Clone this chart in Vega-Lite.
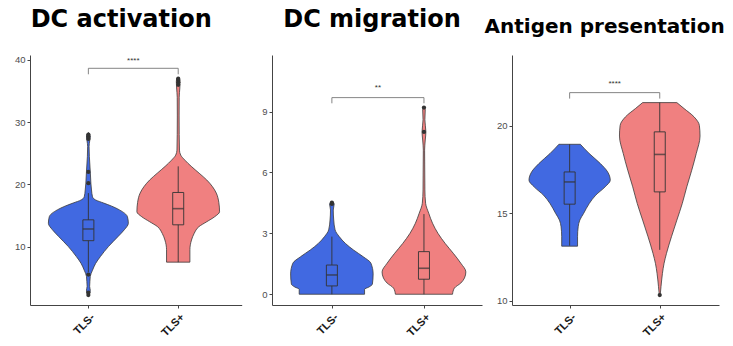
{
  "$schema": "https://vega.github.io/schema/vega-lite/v6.json",
  "autosize": {"type": "none"},
  "padding": {"left": 30, "top": 55, "right": 703, "bottom": 291},
  "background": "white",
  "spacing": 30,
  "bounds": "flush",
  "config": {
    "view": {"stroke": null},
    "axis": {"grid": false, "domainColor": "#444444", "domainWidth": 1, "tickColor": "#444444", "tickSize": 3, "tickWidth": 1, "labelFont": "Liberation Sans", "labelFontSize": 9.5, "labelColor": "#4d4d4d", "labelPadding": 2},
    "axisX": {"labelAngle": -45, "labelAlign": "right", "labelBaseline": "top", "labelFontWeight": "bold", "labelFontSize": 11, "labelColor": "#1a1a1a", "labelPadding": 3},
    "title": {"font": "DejaVu Sans", "fontWeight": "bold", "color": "#000000", "anchor": "middle", "frame": "group", "baseline": "alphabetic"}
  },
  "datasets": {
    "violin": [
      {"panel": 1, "g": "TLS-", "v": 2.1, "lo": 0.996, "hi": 1.004},
      {"panel": 1, "g": "TLS-", "v": 2.6, "lo": 0.982, "hi": 1.018},
      {"panel": 1, "g": "TLS-", "v": 3.0, "lo": 0.979, "hi": 1.021},
      {"panel": 1, "g": "TLS-", "v": 3.6, "lo": 0.986, "hi": 1.014},
      {"panel": 1, "g": "TLS-", "v": 4.4, "lo": 0.983, "hi": 1.017},
      {"panel": 1, "g": "TLS-", "v": 5.2, "lo": 0.979, "hi": 1.021},
      {"panel": 1, "g": "TLS-", "v": 6.2, "lo": 0.954, "hi": 1.046},
      {"panel": 1, "g": "TLS-", "v": 7.3, "lo": 0.919, "hi": 1.081},
      {"panel": 1, "g": "TLS-", "v": 8.4, "lo": 0.866, "hi": 1.134},
      {"panel": 1, "g": "TLS-", "v": 10.0, "lo": 0.777, "hi": 1.223},
      {"panel": 1, "g": "TLS-", "v": 11.6, "lo": 0.671, "hi": 1.329},
      {"panel": 1, "g": "TLS-", "v": 12.7, "lo": 0.6, "hi": 1.4},
      {"panel": 1, "g": "TLS-", "v": 13.75, "lo": 0.555, "hi": 1.445},
      {"panel": 1, "g": "TLS-", "v": 14.8, "lo": 0.565, "hi": 1.435},
      {"panel": 1, "g": "TLS-", "v": 15.9, "lo": 0.654, "hi": 1.346},
      {"panel": 1, "g": "TLS-", "v": 16.5, "lo": 0.74, "hi": 1.26},
      {"panel": 1, "g": "TLS-", "v": 17.0, "lo": 0.83, "hi": 1.17},
      {"panel": 1, "g": "TLS-", "v": 17.5, "lo": 0.92, "hi": 1.08},
      {"panel": 1, "g": "TLS-", "v": 18.0, "lo": 0.954, "hi": 1.046},
      {"panel": 1, "g": "TLS-", "v": 19.1, "lo": 0.965, "hi": 1.035},
      {"panel": 1, "g": "TLS-", "v": 20.2, "lo": 0.972, "hi": 1.028},
      {"panel": 1, "g": "TLS-", "v": 22.1, "lo": 0.979, "hi": 1.021},
      {"panel": 1, "g": "TLS-", "v": 24.5, "lo": 0.989, "hi": 1.011},
      {"panel": 1, "g": "TLS-", "v": 26.1, "lo": 0.992, "hi": 1.008},
      {"panel": 1, "g": "TLS-", "v": 27.0, "lo": 0.985, "hi": 1.015},
      {"panel": 1, "g": "TLS-", "v": 27.6, "lo": 0.979, "hi": 1.021},
      {"panel": 1, "g": "TLS-", "v": 28.0, "lo": 0.984, "hi": 1.016},
      {"panel": 1, "g": "TLS-", "v": 28.3, "lo": 0.996, "hi": 1.004},

      {"panel": 1, "g": "TLS+", "v": 7.5, "lo": 1.87, "hi": 2.13},
      {"panel": 1, "g": "TLS+", "v": 9.5, "lo": 1.87, "hi": 2.13},
      {"panel": 1, "g": "TLS+", "v": 11.06, "lo": 1.852, "hi": 2.148},
      {"panel": 1, "g": "TLS+", "v": 12.1, "lo": 1.823, "hi": 2.177},
      {"panel": 1, "g": "TLS+", "v": 13.2, "lo": 1.77, "hi": 2.23},
      {"panel": 1, "g": "TLS+", "v": 14.0, "lo": 1.682, "hi": 2.318},
      {"panel": 1, "g": "TLS+", "v": 14.8, "lo": 1.594, "hi": 2.406},
      {"panel": 1, "g": "TLS+", "v": 15.6, "lo": 1.54, "hi": 2.46},
      {"panel": 1, "g": "TLS+", "v": 17.1, "lo": 1.548, "hi": 2.452},
      {"panel": 1, "g": "TLS+", "v": 18.6, "lo": 1.576, "hi": 2.424},
      {"panel": 1, "g": "TLS+", "v": 20.7, "lo": 1.682, "hi": 2.318},
      {"panel": 1, "g": "TLS+", "v": 21.8, "lo": 1.767, "hi": 2.233},
      {"panel": 1, "g": "TLS+", "v": 22.9, "lo": 1.855, "hi": 2.145},
      {"panel": 1, "g": "TLS+", "v": 23.9, "lo": 1.926, "hi": 2.074},
      {"panel": 1, "g": "TLS+", "v": 24.7, "lo": 1.972, "hi": 2.028},
      {"panel": 1, "g": "TLS+", "v": 25.5, "lo": 1.986, "hi": 2.014},
      {"panel": 1, "g": "TLS+", "v": 28.0, "lo": 1.989, "hi": 2.011},
      {"panel": 1, "g": "TLS+", "v": 31.0, "lo": 1.99, "hi": 2.01},
      {"panel": 1, "g": "TLS+", "v": 34.0, "lo": 1.989, "hi": 2.011},
      {"panel": 1, "g": "TLS+", "v": 35.5, "lo": 1.982, "hi": 2.018},
      {"panel": 1, "g": "TLS+", "v": 36.5, "lo": 1.979, "hi": 2.021},
      {"panel": 1, "g": "TLS+", "v": 37.0, "lo": 1.986, "hi": 2.014},
      {"panel": 1, "g": "TLS+", "v": 37.2, "lo": 1.996, "hi": 2.004},

      {"panel": 2, "g": "TLS-", "v": 0.0, "lo": 0.645, "hi": 1.355},
      {"panel": 2, "g": "TLS-", "v": 0.25, "lo": 0.645, "hi": 1.355},
      {"panel": 2, "g": "TLS-", "v": 0.35, "lo": 0.6, "hi": 1.4},
      {"panel": 2, "g": "TLS-", "v": 0.5, "lo": 0.56, "hi": 1.44},
      {"panel": 2, "g": "TLS-", "v": 1.0, "lo": 0.552, "hi": 1.448},
      {"panel": 2, "g": "TLS-", "v": 1.53, "lo": 0.576, "hi": 1.424},
      {"panel": 2, "g": "TLS-", "v": 1.85, "lo": 0.66, "hi": 1.34},
      {"panel": 2, "g": "TLS-", "v": 2.18, "lo": 0.765, "hi": 1.235},
      {"panel": 2, "g": "TLS-", "v": 2.5, "lo": 0.852, "hi": 1.148},
      {"panel": 2, "g": "TLS-", "v": 2.84, "lo": 0.92, "hi": 1.08},
      {"panel": 2, "g": "TLS-", "v": 3.17, "lo": 0.965, "hi": 1.035},
      {"panel": 2, "g": "TLS-", "v": 3.66, "lo": 0.98, "hi": 1.02},
      {"panel": 2, "g": "TLS-", "v": 4.15, "lo": 0.985, "hi": 1.015},
      {"panel": 2, "g": "TLS-", "v": 4.45, "lo": 0.975, "hi": 1.025},
      {"panel": 2, "g": "TLS-", "v": 4.55, "lo": 0.996, "hi": 1.004},

      {"panel": 2, "g": "TLS+", "v": 0.0, "lo": 1.69, "hi": 2.31},
      {"panel": 2, "g": "TLS+", "v": 0.3, "lo": 1.67, "hi": 2.33},
      {"panel": 2, "g": "TLS+", "v": 0.55, "lo": 1.6, "hi": 2.4},
      {"panel": 2, "g": "TLS+", "v": 0.8, "lo": 1.56, "hi": 2.44},
      {"panel": 2, "g": "TLS+", "v": 1.1, "lo": 1.545, "hi": 2.455},
      {"panel": 2, "g": "TLS+", "v": 1.53, "lo": 1.6, "hi": 2.4},
      {"panel": 2, "g": "TLS+", "v": 2.02, "lo": 1.682, "hi": 2.318},
      {"panel": 2, "g": "TLS+", "v": 2.5, "lo": 1.769, "hi": 2.231},
      {"panel": 2, "g": "TLS+", "v": 3.0, "lo": 1.848, "hi": 2.152},
      {"panel": 2, "g": "TLS+", "v": 3.5, "lo": 1.907, "hi": 2.093},
      {"panel": 2, "g": "TLS+", "v": 3.99, "lo": 1.948, "hi": 2.052},
      {"panel": 2, "g": "TLS+", "v": 4.48, "lo": 1.982, "hi": 2.018},
      {"panel": 2, "g": "TLS+", "v": 5.14, "lo": 1.99, "hi": 2.01},
      {"panel": 2, "g": "TLS+", "v": 7.1, "lo": 1.993, "hi": 2.007},
      {"panel": 2, "g": "TLS+", "v": 7.6, "lo": 1.986, "hi": 2.014},
      {"panel": 2, "g": "TLS+", "v": 8.0, "lo": 1.979, "hi": 2.021},
      {"panel": 2, "g": "TLS+", "v": 8.6, "lo": 1.99, "hi": 2.01},
      {"panel": 2, "g": "TLS+", "v": 9.1, "lo": 1.986, "hi": 2.014},
      {"panel": 2, "g": "TLS+", "v": 9.25, "lo": 1.996, "hi": 2.004},

      {"panel": 3, "g": "TLS-", "v": 13.11, "lo": 0.912, "hi": 1.088},
      {"panel": 3, "g": "TLS-", "v": 13.65, "lo": 0.912, "hi": 1.088},
      {"panel": 3, "g": "TLS-", "v": 14.22, "lo": 0.905, "hi": 1.095},
      {"panel": 3, "g": "TLS-", "v": 14.6, "lo": 0.887, "hi": 1.113},
      {"panel": 3, "g": "TLS-", "v": 14.98, "lo": 0.845, "hi": 1.155},
      {"panel": 3, "g": "TLS-", "v": 15.55, "lo": 0.782, "hi": 1.218},
      {"panel": 3, "g": "TLS-", "v": 16.02, "lo": 0.711, "hi": 1.289},
      {"panel": 3, "g": "TLS-", "v": 16.5, "lo": 0.606, "hi": 1.394},
      {"panel": 3, "g": "TLS-", "v": 16.88, "lo": 0.549, "hi": 1.451},
      {"panel": 3, "g": "TLS-", "v": 17.35, "lo": 0.578, "hi": 1.422},
      {"panel": 3, "g": "TLS-", "v": 17.83, "lo": 0.659, "hi": 1.341},
      {"panel": 3, "g": "TLS-", "v": 18.4, "lo": 0.782, "hi": 1.218},
      {"panel": 3, "g": "TLS-", "v": 18.93, "lo": 0.881, "hi": 1.119},

      {"panel": 3, "g": "TLS+", "v": 10.32, "lo": 1.995, "hi": 2.005},
      {"panel": 3, "g": "TLS+", "v": 10.8, "lo": 1.986, "hi": 2.014},
      {"panel": 3, "g": "TLS+", "v": 11.56, "lo": 1.97, "hi": 2.03},
      {"panel": 3, "g": "TLS+", "v": 12.13, "lo": 1.952, "hi": 2.048},
      {"panel": 3, "g": "TLS+", "v": 12.7, "lo": 1.925, "hi": 2.075},
      {"panel": 3, "g": "TLS+", "v": 13.65, "lo": 1.87, "hi": 2.13},
      {"panel": 3, "g": "TLS+", "v": 14.6, "lo": 1.81, "hi": 2.19},
      {"panel": 3, "g": "TLS+", "v": 15.55, "lo": 1.75, "hi": 2.25},
      {"panel": 3, "g": "TLS+", "v": 16.5, "lo": 1.7, "hi": 2.3},
      {"panel": 3, "g": "TLS+", "v": 17.45, "lo": 1.645, "hi": 2.355},
      {"panel": 3, "g": "TLS+", "v": 18.4, "lo": 1.595, "hi": 2.405},
      {"panel": 3, "g": "TLS+", "v": 19.4, "lo": 1.553, "hi": 2.447},
      {"panel": 3, "g": "TLS+", "v": 20.0, "lo": 1.56, "hi": 2.44},
      {"panel": 3, "g": "TLS+", "v": 20.5, "lo": 1.62, "hi": 2.38},
      {"panel": 3, "g": "TLS+", "v": 20.97, "lo": 1.73, "hi": 2.27},
      {"panel": 3, "g": "TLS+", "v": 21.31, "lo": 1.81, "hi": 2.19}
    ],
    "box": [
      {"panel": 1, "g": "TLS-", "x": 1, "lo": 5.9, "q1": 10.95, "med": 12.83, "q3": 14.3, "hi": 18.6},
      {"panel": 1, "g": "TLS+", "x": 2, "lo": 7.5, "q1": 13.5, "med": 16.1, "q3": 18.7, "hi": 22.9},
      {"panel": 2, "g": "TLS-", "x": 1, "lo": 0, "q1": 0.41, "med": 0.95, "q3": 1.44, "hi": 2.84},
      {"panel": 2, "g": "TLS+", "x": 2, "lo": 0, "q1": 0.74, "med": 1.28, "q3": 2.1, "hi": 3.95},
      {"panel": 3, "g": "TLS-", "x": 1, "lo": 13.14, "q1": 15.51, "med": 16.78, "q3": 17.35, "hi": 18.93},
      {"panel": 3, "g": "TLS+", "x": 2, "lo": 12.9, "q1": 16.21, "med": 18.35, "q3": 19.64, "hi": 21.31}
    ],
    "out": [
      {"panel": 1, "x": 1, "v": 2.2}, {"panel": 1, "x": 1, "v": 2.6}, {"panel": 1, "x": 1, "v": 5.5},
      {"panel": 1, "x": 1, "v": 20.2}, {"panel": 1, "x": 1, "v": 22.0}, {"panel": 1, "x": 1, "v": 27.3},
      {"panel": 1, "x": 1, "v": 27.7}, {"panel": 1, "x": 1, "v": 28.0},
      {"panel": 1, "x": 2, "v": 36.0}, {"panel": 1, "x": 2, "v": 36.4}, {"panel": 1, "x": 2, "v": 36.8}, {"panel": 1, "x": 2, "v": 37.0},
      {"panel": 2, "x": 1, "v": 4.45}, {"panel": 2, "x": 1, "v": 4.52},
      {"panel": 2, "x": 2, "v": 8.0}, {"panel": 2, "x": 2, "v": 9.2},
      {"panel": 3, "x": 2, "v": 10.32}
    ],
    "brk": [
      {"panel": 1, "x": 1, "x2": 2, "y": 38.66, "y2": 38.66},
      {"panel": 1, "x": 1, "x2": 1, "y": 38.66, "y2": 37.7},
      {"panel": 1, "x": 2, "x2": 2, "y": 38.66, "y2": 37.7},
      {"panel": 2, "x": 1, "x2": 2, "y": 9.69, "y2": 9.69},
      {"panel": 2, "x": 1, "x2": 1, "y": 9.69, "y2": 9.41},
      {"panel": 2, "x": 2, "x2": 2, "y": 9.69, "y2": 9.41},
      {"panel": 3, "x": 1, "x2": 2, "y": 21.88, "y2": 21.88},
      {"panel": 3, "x": 1, "x2": 1, "y": 21.88, "y2": 21.54},
      {"panel": 3, "x": 2, "x2": 2, "y": 21.88, "y2": 21.54}
    ],
    "lbl": [
      {"panel": 1, "x": 1.5, "y": 39.9, "t": "****"},
      {"panel": 2, "x": 1.5, "y": 10.15, "t": "**"},
      {"panel": 3, "x": 1.5, "y": 22.4, "t": "****"}
    ]
  },
  "hconcat": [
    {
      "width": 211.7, "height": 250,
      "title": {"text": "DC activation", "fontSize": 24, "dx": -14.6, "offset": 23},
      "layer": [
        {"data": {"name": "violin"}, "transform": [{"filter": "datum.panel == 1"}],
         "mark": {"type": "area", "orient": "horizontal", "interpolate": "monotone", "stroke": "#3a3a3a", "strokeWidth": 0.8, "opacity": 1},
         "encoding": {
           "y": {"field": "v", "type": "quantitative", "title": null, "scale": {"domain": [0.61, 40.8], "nice": false, "zero": false}, "axis": {"values": [10, 20, 30, 40]}},
           "x": {"field": "lo", "type": "quantitative", "title": null, "stack": null, "scale": {"domain": [0.406, 2.651], "nice": false, "zero": false}, "axis": {"values": [1, 2], "labelExpr": "datum.value == 1 ? 'TLS-' : 'TLS+'"}},
           "x2": {"field": "hi"},
           "color": {"field": "g", "type": "nominal", "scale": {"domain": ["TLS-", "TLS+"], "range": ["#4169E1", "#F08080"]}, "legend": null}
         }},
        {"data": {"name": "box"}, "transform": [{"filter": "datum.panel == 1"}],
         "mark": {"type": "rule", "color": "#333333", "strokeWidth": 0.9},
         "encoding": {"x": {"field": "x", "type": "quantitative", "title": null}, "y": {"field": "lo", "type": "quantitative", "title": null}, "y2": {"field": "hi"}}},
        {"data": {"name": "box"}, "transform": [{"filter": "datum.panel == 1"}],
         "mark": {"type": "bar", "orient": "vertical", "size": 11, "stroke": "#333333", "strokeWidth": 0.9},
         "encoding": {"x": {"field": "x", "type": "quantitative", "title": null}, "y": {"field": "q1", "type": "quantitative", "title": null}, "y2": {"field": "q3"}, "color": {"field": "g", "type": "nominal", "legend": null}}},
        {"data": {"name": "box"}, "transform": [{"filter": "datum.panel == 1"}],
         "mark": {"type": "tick", "orient": "horizontal", "size": 11, "thickness": 1.6, "color": "#333333"},
         "encoding": {"x": {"field": "x", "type": "quantitative", "title": null}, "y": {"field": "med", "type": "quantitative", "title": null}}},
        {"data": {"name": "out"}, "transform": [{"filter": "datum.panel == 1"}],
         "mark": {"type": "circle", "size": 18, "color": "#333333", "opacity": 1},
         "encoding": {"x": {"field": "x", "type": "quantitative", "title": null}, "y": {"field": "v", "type": "quantitative", "title": null}}},
        {"data": {"name": "brk"}, "transform": [{"filter": "datum.panel == 1"}],
         "mark": {"type": "rule", "color": "#777777", "strokeWidth": 0.9},
         "encoding": {"x": {"field": "x", "type": "quantitative", "title": null}, "x2": {"field": "x2"}, "y": {"field": "y", "type": "quantitative", "title": null}, "y2": {"field": "y2"}}},
        {"data": {"name": "lbl"}, "transform": [{"filter": "datum.panel == 1"}],
         "mark": {"type": "text", "fontSize": 8, "color": "#333333", "baseline": "middle", "font": "Liberation Sans"},
         "encoding": {"x": {"field": "x", "type": "quantitative", "title": null}, "y": {"field": "y", "type": "quantitative", "title": null}, "text": {"field": "t"}}}
      ]
    },
    {
      "width": 210, "height": 250,
      "title": {"text": "DC migration", "fontSize": 24, "dx": -5, "offset": 23},
      "layer": [
        {"data": {"name": "violin"}, "transform": [{"filter": "datum.panel == 2"}],
         "mark": {"type": "area", "orient": "horizontal", "interpolate": "monotone", "stroke": "#3a3a3a", "strokeWidth": 0.8, "opacity": 1},
         "encoding": {
           "y": {"field": "v", "type": "quantitative", "title": null, "scale": {"domain": [-0.53, 11.79], "nice": false, "zero": false}, "axis": {"values": [0, 3, 6, 9]}},
           "x": {"field": "lo", "type": "quantitative", "title": null, "stack": null, "scale": {"domain": [0.404, 2.576], "nice": false, "zero": false}, "axis": {"values": [1, 2], "labelExpr": "datum.value == 1 ? 'TLS-' : 'TLS+'"}},
           "x2": {"field": "hi"},
           "color": {"field": "g", "type": "nominal", "legend": null}
         }},
        {"data": {"name": "box"}, "transform": [{"filter": "datum.panel == 2"}],
         "mark": {"type": "rule", "color": "#333333", "strokeWidth": 0.9},
         "encoding": {"x": {"field": "x", "type": "quantitative", "title": null}, "y": {"field": "lo", "type": "quantitative", "title": null}, "y2": {"field": "hi"}}},
        {"data": {"name": "box"}, "transform": [{"filter": "datum.panel == 2"}],
         "mark": {"type": "bar", "orient": "vertical", "size": 11, "stroke": "#333333", "strokeWidth": 0.9},
         "encoding": {"x": {"field": "x", "type": "quantitative", "title": null}, "y": {"field": "q1", "type": "quantitative", "title": null}, "y2": {"field": "q3"}, "color": {"field": "g", "type": "nominal", "legend": null}}},
        {"data": {"name": "box"}, "transform": [{"filter": "datum.panel == 2"}],
         "mark": {"type": "tick", "orient": "horizontal", "size": 11, "thickness": 1.6, "color": "#333333"},
         "encoding": {"x": {"field": "x", "type": "quantitative", "title": null}, "y": {"field": "med", "type": "quantitative", "title": null}}},
        {"data": {"name": "out"}, "transform": [{"filter": "datum.panel == 2"}],
         "mark": {"type": "circle", "size": 18, "color": "#333333", "opacity": 1},
         "encoding": {"x": {"field": "x", "type": "quantitative", "title": null}, "y": {"field": "v", "type": "quantitative", "title": null}}},
        {"data": {"name": "brk"}, "transform": [{"filter": "datum.panel == 2"}],
         "mark": {"type": "rule", "color": "#777777", "strokeWidth": 0.9},
         "encoding": {"x": {"field": "x", "type": "quantitative", "title": null}, "x2": {"field": "x2"}, "y": {"field": "y", "type": "quantitative", "title": null}, "y2": {"field": "y2"}}},
        {"data": {"name": "lbl"}, "transform": [{"filter": "datum.panel == 2"}],
         "mark": {"type": "text", "fontSize": 8, "color": "#333333", "baseline": "middle", "font": "Liberation Sans"},
         "encoding": {"x": {"field": "x", "type": "quantitative", "title": null}, "y": {"field": "y", "type": "quantitative", "title": null}, "text": {"field": "t"}}}
      ]
    },
    {
      "width": 207, "height": 250,
      "title": {"text": "Antigen presentation", "fontSize": 20, "dx": -10.9, "offset": 18},
      "layer": [
        {"data": {"name": "violin"}, "transform": [{"filter": "datum.panel == 3"}],
         "mark": {"type": "area", "orient": "horizontal", "interpolate": "monotone", "stroke": "#3a3a3a", "strokeWidth": 0.8, "opacity": 1},
         "encoding": {
           "y": {"field": "v", "type": "quantitative", "title": null, "scale": {"domain": [9.75, 24.03], "nice": false, "zero": false}, "axis": {"values": [10, 15, 20]}},
           "x": {"field": "lo", "type": "quantitative", "title": null, "stack": null, "scale": {"domain": [0.416, 2.602], "nice": false, "zero": false}, "axis": {"values": [1, 2], "labelExpr": "datum.value == 1 ? 'TLS-' : 'TLS+'"}},
           "x2": {"field": "hi"},
           "color": {"field": "g", "type": "nominal", "legend": null}
         }},
        {"data": {"name": "box"}, "transform": [{"filter": "datum.panel == 3"}],
         "mark": {"type": "rule", "color": "#333333", "strokeWidth": 0.9},
         "encoding": {"x": {"field": "x", "type": "quantitative", "title": null}, "y": {"field": "lo", "type": "quantitative", "title": null}, "y2": {"field": "hi"}}},
        {"data": {"name": "box"}, "transform": [{"filter": "datum.panel == 3"}],
         "mark": {"type": "bar", "orient": "vertical", "size": 11, "stroke": "#333333", "strokeWidth": 0.9},
         "encoding": {"x": {"field": "x", "type": "quantitative", "title": null}, "y": {"field": "q1", "type": "quantitative", "title": null}, "y2": {"field": "q3"}, "color": {"field": "g", "type": "nominal", "legend": null}}},
        {"data": {"name": "box"}, "transform": [{"filter": "datum.panel == 3"}],
         "mark": {"type": "tick", "orient": "horizontal", "size": 11, "thickness": 1.6, "color": "#333333"},
         "encoding": {"x": {"field": "x", "type": "quantitative", "title": null}, "y": {"field": "med", "type": "quantitative", "title": null}}},
        {"data": {"name": "out"}, "transform": [{"filter": "datum.panel == 3"}],
         "mark": {"type": "circle", "size": 18, "color": "#333333", "opacity": 1},
         "encoding": {"x": {"field": "x", "type": "quantitative", "title": null}, "y": {"field": "v", "type": "quantitative", "title": null}}},
        {"data": {"name": "brk"}, "transform": [{"filter": "datum.panel == 3"}],
         "mark": {"type": "rule", "color": "#777777", "strokeWidth": 0.9},
         "encoding": {"x": {"field": "x", "type": "quantitative", "title": null}, "x2": {"field": "x2"}, "y": {"field": "y", "type": "quantitative", "title": null}, "y2": {"field": "y2"}}},
        {"data": {"name": "lbl"}, "transform": [{"filter": "datum.panel == 3"}],
         "mark": {"type": "text", "fontSize": 8, "color": "#333333", "baseline": "middle", "font": "Liberation Sans"},
         "encoding": {"x": {"field": "x", "type": "quantitative", "title": null}, "y": {"field": "y", "type": "quantitative", "title": null}, "text": {"field": "t"}}}
      ]
    }
  ]
}
